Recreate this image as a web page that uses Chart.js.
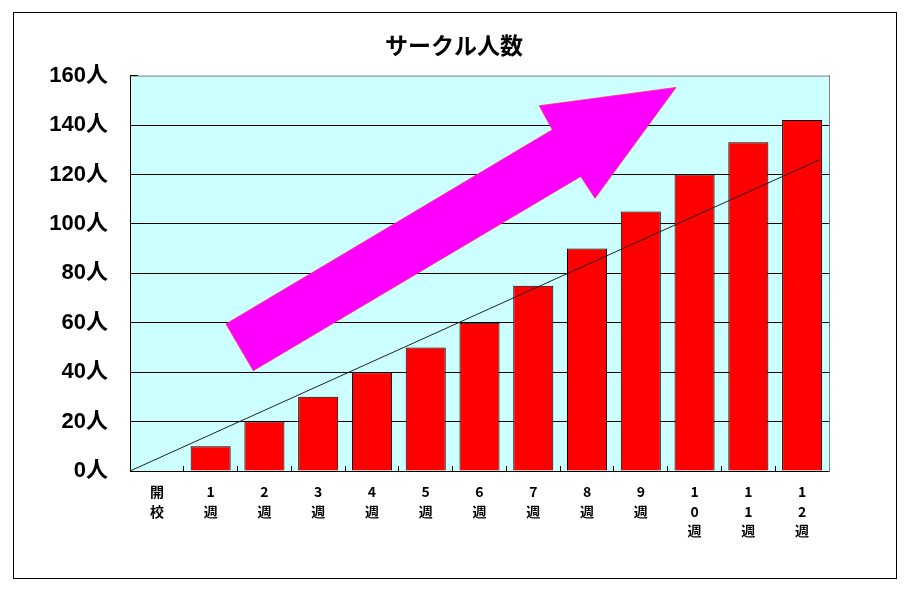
<!DOCTYPE html>
<html><head><meta charset="utf-8">
<script src="https://cdn.jsdelivr.net/npm/chart.js@4.4.0/dist/chart.umd.min.js"></script>
<style>
html,body{margin:0;padding:0;background:#fff;}
#wrap{position:absolute;left:0;top:0;width:920px;height:607px;}
#frame{position:absolute;left:13px;top:12px;width:882px;height:565px;border:1px solid #000;pointer-events:none;}
</style></head>
<body>
<div id="wrap"><canvas id="c" width="920" height="607"></canvas></div>
<div id="frame"></div>
<script>
const categories = [['開','校'],['1','週'],['2','週'],['3','週'],['4','週'],['5','週'],['6','週'],['7','週'],['8','週'],['9','週'],['1','0','週'],['1','1','週'],['1','2','週']];
const members = [0,10,20,30,40,50,60,75,90,105,120,133,142];
const trendX = [-0.5, 12.33];
const trendY = [0, 126];
const arrowX = [1.285, 1.793, 7.882, 8.148, 9.654, 7.112, 7.354, 1.285];
const arrowY = [59.5, 40.6, 119.2, 110.4, 155.2, 147.8, 138.1, 59.5];
const yTicks = [0,20,40,60,80,100,120,140,160];
const titleText = 'サークル人数';

const FONT = '"Liberation Sans","Noto Sans CJK JP",sans-serif';
const CJK = '"Noto Sans CJK JP",sans-serif';

const bgPlugin = {
  id: 'plotBg',
  beforeDraw(chart) {
    const {ctx, chartArea: a} = chart;
    ctx.save();
    ctx.fillStyle = '#CCFFFF';
    ctx.fillRect(a.left, a.top, a.right - a.left, a.bottom - a.top);
    ctx.strokeStyle = '#808080';
    ctx.lineWidth = 1;
    ctx.beginPath();
    ctx.moveTo(a.left, a.top + 0.5);
    ctx.lineTo(a.right, a.top + 0.5);
    ctx.stroke();
    ctx.restore();
  }
};

new Chart(document.getElementById('c'), {
  type: 'bar',
  data: {
    labels: categories,
    datasets: [
      {
        label: 'arrow', type: 'line', xAxisID: 'x2', order: 0,
        data: arrowX.map((x, i) => ({x: x, y: arrowY[i]})),
        fill: 'shape', backgroundColor: '#FF00FF', borderColor: '#FF2A80', borderWidth: 0.8,
        pointRadius: 0, tension: 0
      },
      {
        label: 'trend', type: 'line', xAxisID: 'x2', order: 1,
        data: trendX.map((x, i) => ({x: x, y: trendY[i]})),
        fill: false, borderColor: '#222', borderWidth: 1, pointRadius: 0, tension: 0
      },
      {
        label: 'サークル人数', type: 'bar', order: 2, grouped: false,
        data: members,
        backgroundColor: '#FF0000', borderColor: '#000', borderWidth: 1,
        barPercentage: 0.745, categoryPercentage: 1.0
      }
    ]
  },
  options: {
    responsive: false, animation: false, devicePixelRatio: 1,
    layout: {padding: {left: 0, right: 12, top: 0, bottom: 0}},
    plugins: {
      legend: {display: false},
      tooltip: {enabled: false},
      title: {
        display: true, text: titleText, color: '#000',
        font: {family: CJK, size: 23, weight: 'bold', lineHeight: 1.2},
        padding: {top: 31, bottom: 17}
      }
    },
    scales: {
      x: {
        type: 'category', position: 'bottom', offset: true,
        grid: {display: true, drawOnChartArea: false, drawTicks: true, tickLength: -5, tickColor: '#000', offset: true},
        border: {display: true, color: '#000', width: 1},
        ticks: {color: '#000', font: {family: CJK, size: 14, weight: 'bold', lineHeight: 1.4}, padding: 16, maxRotation: 0, autoSkip: false},
        afterFit(s) { s.height = 136; }
      },
      x2: {
        type: 'linear', display: false, min: -0.5, max: 12.5, position: 'bottom', offset: false,
        grid: {offset: false}
      },
      y: {
        type: 'linear', position: 'left', min: 0, max: 160,
        afterBuildTicks(s) { s.ticks = yTicks.map(v => ({value: v})); },
        grid: {
          color: (c) => (c.tick && c.tick.value === 160) ? 'rgba(0,0,0,0)' : '#000',
          tickColor: '#000', lineWidth: 1, drawTicks: true, tickLength: -8
        },
        border: {display: true, color: '#000', width: 1},
        ticks: {color: '#000', font: {family: FONT, size: 22, weight: 'bold'}, padding: 30, callback: (v) => v + '人'},
        afterFit(s) { s.width = 130; }
      },
      yr: {
        type: 'linear', position: 'right', min: 0, max: 160, display: true,
        grid: {drawOnChartArea: false, drawTicks: false},
        border: {display: true, color: '#808080', width: 1},
        ticks: {display: false},
        afterFit(s) { s.width = 79; }
      }
    }
  },
  plugins: [bgPlugin]
});
</script>
</body></html>
